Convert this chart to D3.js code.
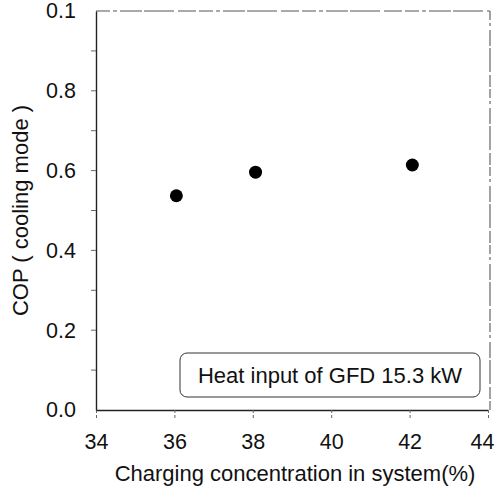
<!DOCTYPE html>
<html>
<head>
<meta charset="utf-8">
<script src="https://d3js.org/d3.v7.min.js"></script>
<style>
  html, body { margin: 0; padding: 0; background: #fff; }
  svg { display: block; font-family: Arial, "Liberation Sans", sans-serif; }
</style>
</head>
<body>
<svg id="chart" width="497" height="492"></svg>
<script>
// Charging concentration (%) vs. cooling-mode COP
const concentration = [36.05, 38.07, 42.07];
const cop = [0.537, 0.596, 0.614];
const xTicks = [34, 36, 38, 40, 42, 44];
const yTicks = [0.0, 0.2, 0.4, 0.6, 0.8, 1.0];
const yTickLabels = ["0.0", "0.2", "0.4", "0.6", "0.8", "0.1"];
const legendText = "Heat input of GFD 15.3 kW";

const FONT = "Arial, 'Liberation Sans', sans-serif";
const FS_TICK = 21.5;
const FS_TITLE = 22;

const svg = d3.select("#chart");
const plotLeft = 96, plotRight = 488, plotTop = 11, plotBottom = 410;

const x = d3.scaleLinear().domain([34, 44]).range([plotLeft, plotRight]);
const y = d3.scaleLinear().domain([0, 1]).range([plotBottom, plotTop]);

// frame: top and right edges are faint broken lines
svg.append("line")
  .attr("x1", plotLeft).attr("x2", plotRight + 2).attr("y1", plotTop).attr("y2", plotTop)
  .attr("stroke", "#555").attr("stroke-width", 1.2)
  .attr("stroke-dasharray", "14 3 4 3 22 2 30 4 18 3");
svg.append("line")
  .attr("x1", plotRight + 2).attr("x2", plotRight + 2).attr("y1", plotTop).attr("y2", plotBottom)
  .attr("stroke", "#666").attr("stroke-width", 1.2)
  .attr("stroke-dasharray", "9 3 3 4 16 2 24 3 12 2");

// x axis with short outward ticks
const xAxis = d3.axisBottom(x).tickValues(xTicks).tickSizeInner(10).tickSizeOuter(0)
  .tickPadding(14).tickFormat(d3.format("d"));
const gx = svg.append("g").attr("transform", `translate(0,${plotBottom})`).call(xAxis);
gx.select(".domain").attr("stroke", "#222").attr("stroke-width", 1.4);
gx.selectAll(".tick line").attr("stroke", "#666").attr("stroke-width", 1)
  .attr("stroke-dasharray", "3 2");
gx.selectAll("text").attr("font-size", FS_TICK).attr("fill", "#111").attr("font-family", FONT)
  .attr("dx", d => d === 44 ? -6 : 0);

// y axis
const yAxis = d3.axisLeft(y).tickValues(yTicks).tickSize(0).tickPadding(20)
  .tickFormat((d, i) => yTickLabels[i]);
const gy = svg.append("g").attr("transform", `translate(${plotLeft},0)`).call(yAxis);
gy.select(".domain").attr("stroke", "#222").attr("stroke-width", 1.4);
gy.selectAll("text").attr("font-size", FS_TICK).attr("fill", "#111").attr("font-family", FONT);

// small y ticks every 0.1
svg.append("g").selectAll("line")
  .data(d3.range(1, 10).map(i => i / 10))
  .join("line")
  .attr("x1", plotLeft - 5).attr("x2", plotLeft)
  .attr("y1", d => y(d)).attr("y2", d => y(d))
  .attr("stroke", "#666").attr("stroke-width", 1);

// axis titles
svg.append("text")
  .attr("x", 295).attr("y", 481)
  .attr("text-anchor", "middle").attr("font-size", FS_TITLE).attr("fill", "#111")
  .attr("font-family", FONT)
  .text("Charging concentration in system(%)");
svg.append("text")
  .attr("transform", `translate(28,${(plotTop + plotBottom) / 2}) rotate(-90)`)
  .attr("text-anchor", "middle").attr("font-size", FS_TITLE).attr("fill", "#111")
  .attr("font-family", FONT)
  .text("COP ( cooling mode )");

// data points
svg.append("g").selectAll("circle")
  .data(concentration.map((c, i) => ({ c, v: cop[i] })))
  .join("circle")
  .attr("cx", d => x(d.c)).attr("cy", d => y(d.v))
  .attr("r", 6.5).attr("fill", "#000");

// legend box
const lg = svg.append("g");
lg.append("rect")
  .attr("x", 180).attr("y", 353).attr("width", 300).attr("height", 44)
  .attr("rx", 7).attr("ry", 7)
  .attr("fill", "#fff").attr("stroke", "#333").attr("stroke-width", 1);
lg.append("text")
  .attr("x", 330).attr("y", 383)
  .attr("text-anchor", "middle").attr("font-size", FS_TITLE).attr("fill", "#111")
  .attr("font-family", FONT)
  .text(legendText);
</script>
</body>
</html>
